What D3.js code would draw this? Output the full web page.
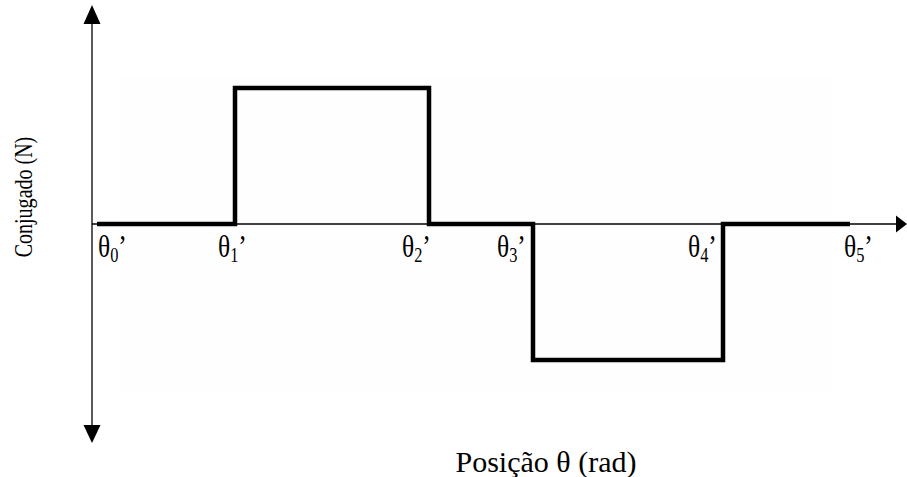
<!DOCTYPE html>
<html>
<head>
<meta charset="utf-8">
<script src="https://cdn.jsdelivr.net/npm/d3@7"></script>
<style>
  html, body { margin: 0; padding: 0; background: #fff; }
  svg { display: block; }
  text { font-family: "Liberation Serif", "Times New Roman", serif; fill: #000; }
</style>
</head>
<body>
<svg id="chart" width="907" height="477"></svg>
<script>
// ---- data ----
const thetaPositions = [0, 1.38, 3.32, 4.36, 6.26, 7.53];     // θ0'..θ5' (arbitrary rad units)
const torqueValues   = [0, 1, 0, -1, 0, 0];                  // torque level starting at each θ (step after)
const thetaSubscripts = ["0", "1", "2", "3", "4", "5"];
const xAxisTitle = "Posição θ (rad)";
const yAxisTitle = "Conjugado (N)";

// ---- layout ----
const axisX = 92, axisY = 224;
const labelDx = [1, -17, -27, -36, -35, -6];

const svg = d3.select("#chart");

const x = d3.scaleLinear().domain([0, 7.53]).range([97, 850]);
const y = d3.scaleLinear().domain([-1, 1]).range([360, 88]);

// very faint background panel as seen in reference
svg.append("rect").attr("x", 120).attr("y", 76).attr("width", 712).attr("height", 314)
  .attr("fill", "#fefefe");

// y axis line
svg.append("line").attr("x1", axisX).attr("x2", axisX).attr("y1", 22).attr("y2", 427)
  .attr("stroke", "#000").attr("stroke-width", 1.3);
svg.append("path").attr("d", `M${axisX},5 L${axisX-8.5},24 L${axisX+8.5},24 Z`).attr("fill", "#000");
svg.append("path").attr("d", `M${axisX},443 L${axisX-8.5},425 L${axisX+8.5},425 Z`).attr("fill", "#000");

// x axis line
svg.append("line").attr("x1", axisX).attr("x2", 898).attr("y1", axisY).attr("y2", axisY)
  .attr("stroke", "#000").attr("stroke-width", 1.3);
svg.append("path").attr("d", `M907,${axisY} L896,${axisY-8.5} L896,${axisY+8.5} Z`).attr("fill", "#000");

// step waveform
const pts = thetaPositions.map((t, i) => [t, torqueValues[i]]);
const line = d3.line().x(d => x(d[0])).y(d => y(d[1])).curve(d3.curveStepAfter);
svg.append("path").datum(pts).attr("d", line)
  .attr("fill", "none").attr("stroke", "#000").attr("stroke-width", 4.5)
  .attr("stroke-linejoin", "miter").attr("stroke-linecap", "butt");

// theta labels (slightly condensed, as in the reference)
const lbl = svg.append("g").selectAll("text").data(thetaPositions).join("text")
  .attr("transform", (d, i) => `translate(${x(d) + labelDx[i]},257) scale(0.82,1)`)
  .attr("font-size", 31);
lbl.append("tspan").text("θ");
lbl.append("tspan").attr("font-size", 20).attr("dy", 5).text((d, i) => thetaSubscripts[i]);
lbl.append("tspan").attr("dy", -5).text("’");

// axis titles
svg.append("text").attr("x", 546).attr("y", 472).attr("text-anchor", "middle")
  .attr("font-size", 30).text(xAxisTitle);
svg.append("text").attr("transform", "translate(32,197) rotate(-90) scale(0.77,1)").attr("text-anchor", "middle")
  .attr("font-size", 26).text(yAxisTitle);
</script>
</body>
</html>
